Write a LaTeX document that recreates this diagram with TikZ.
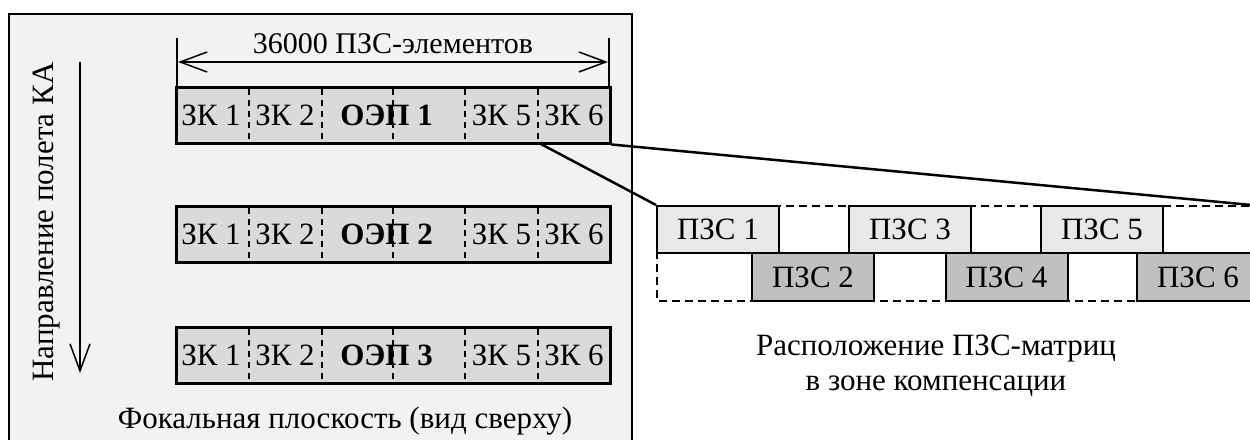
\documentclass[tikz,border=0pt]{standalone}
\usepackage{fontspec}
\setmainfont{Liberation Serif}
\usetikzlibrary{arrows.meta}
\definecolor{panelgray}{HTML}{F2F2F2}
\definecolor{bargray}{HTML}{DADADA}
\definecolor{toplight}{HTML}{E8E8E8}
\definecolor{botdark}{HTML}{C0C0C0}
\begin{document}
\begin{tikzpicture}[x=1pt,y=-1pt,
  panelbox/.style={draw=black, line width=1.5pt, fill=panelgray},
  bar/.style={draw=black, line width=3pt, fill=bargray, minimum width=434pt, minimum height=56pt, inner sep=0pt},
  divider/.style={line width=1.2pt, dash pattern=on 6pt off 5pt},
  seg/.style={font=\fontsize{31}{35}\selectfont, inner sep=0pt},
  oep/.style={font=\fontsize{31}{35}\selectfont\bfseries, inner sep=0pt},
  lbl/.style={font=\fontsize{31}{35}\selectfont, inner sep=0pt},
  dimlbl/.style={font=\fontsize{30}{35}\selectfont, inner sep=0pt, anchor=base},
  captext/.style={font=\fontsize{31}{35}\selectfont, inner sep=0pt, anchor=base},
  thinline/.style={line width=1.5pt},
  barb/.tip={Straight Barb[length=27pt,width=20pt,line width=1.5pt]},
  pzstop/.style={draw=black, line width=2pt, fill=toplight, minimum width=122pt, minimum height=47pt, inner sep=0pt, font=\fontsize{31}{35}\selectfont},
  pzsbot/.style={draw=black, line width=2pt, fill=botdark, minimum width=122pt, minimum height=48pt, inner sep=0pt, font=\fontsize{31}{35}\selectfont},
  dashedoutline/.style={line width=1.5pt, dash pattern=on 8pt off 5pt},
  zoomline/.style={line width=2.5pt}
]
\useasboundingbox (0,0) rectangle (1250,439);
\clip (0,0) rectangle (1250,439);
\fill[white] (0,0) rectangle (1250,439);

% focal plane panel
\draw[panelbox] (9,14) rectangle (632,450);

% dimension line
\coordinate (tl) at (177,38);
\coordinate (tlb) at (177,87);
\coordinate (tr) at (609,38);
\coordinate (trb) at (609,87);
\draw[thinline] (tl) -- (tlb);
\draw[thinline] (tr) -- (trb);
\coordinate (al) at (178,62);
\coordinate (ar) at (608,62);
\draw[thinline, barb-barb] (al) -- (ar);
\node[dimlbl] (dim) at (393,53) {36000 ПЗС-элементов};

% flight direction
\coordinate (va) at (80,62);
\coordinate (vb) at (80,373);
\draw[thinline, -barb] (va) -- (vb);
\node[lbl, rotate=90] (dir) at (47,222) {Направление полета КА};

% bars
\foreach \i/\y in {1/115,2/234.5,3/355}{
  \node[bar] (b\i) at (393,\y) {};
  \foreach \x in {249,322,393,465,538}{
    \draw[divider] (\x,\y-26.5) -- (\x,\y+26.5);
  }
  \node[seg] (z1b\i) at (211,\y) {ЗК 1};
  \node[seg] (z2b\i) at (285,\y) {ЗК 2};
  \node[oep] (oep\i) at (386.5,\y) {ОЭП \i};
  \node[seg] (z5b\i) at (501.5,\y) {ЗК 5};
  \node[seg] (z6b\i) at (574,\y) {ЗК 6};
}

\node[captext] (focal) at (345,428) {Фокальная плоскость (вид сверху)};

% CCD layout outline
\coordinate (o1) at (657,206);
\coordinate (o2) at (1262,206);
\coordinate (o3) at (1262,301);
\coordinate (o4) at (657,301);
\draw[dashedoutline] (o2) -- (o1) -- (o4) -- (o3);

% CCD matrices
\node[pzstop] (p1) at (718,229.5) {ПЗС 1};
\node[pzstop] (p3) at (910,229.5) {ПЗС 3};
\node[pzstop] (p5) at (1102,229.5) {ПЗС 5};
\node[pzsbot] (p2) at (813,277) {ПЗС 2};
\node[pzsbot] (p4) at (1006.5,277) {ПЗС 4};
\node[pzsbot] (p6) at (1198,277) {ПЗС 6};

% zoom lines
\coordinate (zs) at (539,143);
\draw[zoomline] (zs) -- (p1.north west);
\draw[zoomline] (b1.south east) -- (o2);

\node[captext] (cap1) at (936,355) {Расположение ПЗС-матриц};
\node[captext] (cap2) at (936,390) {в зоне компенсации};
\end{tikzpicture}
\end{document}
